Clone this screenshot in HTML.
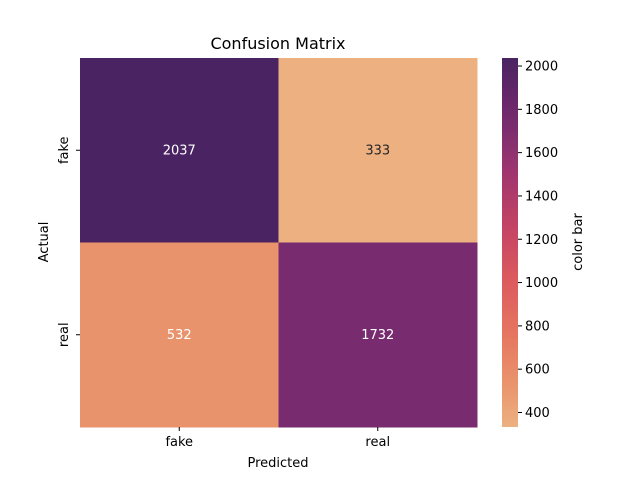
<!DOCTYPE html>
<html><head><meta charset="utf-8"><style>
body{margin:0;background:#fff;font-family:"Liberation Sans","DejaVu Sans",sans-serif}
text{font-family:"DejaVu Sans","Liberation Sans",sans-serif}
</style></head><body>
<svg id="chart" width="640" height="480">
<defs><linearGradient id="cbg" x1="0" y1="1" x2="0" y2="0"></linearGradient></defs>
<text x="278" y="49" text-anchor="middle" font-size="16">Confusion Matrix</text>
<g id="cells"></g>
<g id="axes"></g>
<g id="cbar"></g>
</svg>
<script>
const rowLabels=["fake","real"];
const colLabels=["fake","real"];
const values=[[2037,333],[532,1732]];
const cbTicks=[400,600,800,1000,1200,1400,1600,1800,2000];
const NS="http://www.w3.org/2000/svg";
const svg=document.getElementById('chart');
const X0=80,X1=477,Y0=58,Y1=427;
const flat=values.flat();const vmin=Math.min(...flat),vmax=Math.max(...flat);
const stops=[[0,"#edb081"],[0.12,"#e9926b"],[0.25,"#e57661"],[0.4,"#dc5a5e"],[0.55,"#c24265"],[0.7,"#9c356f"],[0.82,"#782b6e"],[1,"#4a2362"]];
function hex(h){return [1,3,5].map(i=>parseInt(h.substr(i,2),16));}
function cmap(v){let t=(v-vmin)/(vmax-vmin);t=Math.max(0,Math.min(1,t));
for(let i=1;i<stops.length;i++){if(t<=stops[i][0]){const a=stops[i-1],b=stops[i];const f=(t-a[0])/(b[0]-a[0]);const ca=hex(a[1]),cb=hex(b[1]);const c=ca.map((x,k)=>Math.round(x+(cb[k]-x)*f));return {c:`rgb(${c})`,lum:(0.299*c[0]+0.587*c[1]+0.114*c[2])};}}
const c=hex(stops[stops.length-1][1]);return {c:`rgb(${c})`,lum:0};}
function el(tag,attrs,parent){const e=document.createElementNS(NS,tag);for(const k in attrs)e.setAttribute(k,attrs[k]);parent.appendChild(e);return e;}
const cw=(X1-X0)/colLabels.length,ch=(Y1-Y0)/rowLabels.length;
const cells=document.getElementById('cells');
values.forEach((row,r)=>row.forEach((v,c)=>{
 const m=cmap(v);
 const rect=el('rect',{x:X0+c*cw,y:Y0+r*ch,width:cw+0.5,height:ch+0.5,fill:m.c},cells);
 
 
 const t=el('text',{x:X0+(c+0.5)*cw,y:Y0+(r+0.5)*ch+4,'text-anchor':'middle','font-size':13,fill:m.lum>175?'#262626':'#fff'},cells);
 t.textContent=v;
 
 
}));
const ax=document.getElementById('axes');
colLabels.forEach((l,i)=>{const x=X0+(i+0.5)*cw;
 el('line',{x1:x,x2:x,y1:Y1,y2:Y1+4,stroke:'#000'},ax);
 const t=el('text',{x:x,y:Y1+19,'text-anchor':'middle','font-size':13},ax);t.textContent=l;
 
 });
rowLabels.forEach((l,i)=>{const y=Y0+(i+0.5)*ch;
 el('line',{x1:X0-4,x2:X0,y1:y,y2:y,stroke:'#000'},ax);
 const t=el('text',{x:0,y:0,'text-anchor':'middle','font-size':13,transform:`translate(68,${y}) rotate(-90)`},ax);t.textContent=l;
 
 });
let t=el('text',{x:278,y:467,'text-anchor':'middle','font-size':13},ax);t.textContent='Predicted';


t=el('text',{x:0,y:0,'text-anchor':'middle','font-size':13,transform:'translate(48,242) rotate(-90)'},ax);t.textContent='Actual';


const cb=document.getElementById('cbar');
const CX=502,CW=16;
const g=document.getElementById('cbg');
for(let i=0;i<=20;i++){const v=vmin+(vmax-vmin)*i/20;el('stop',{offset:(i/20),'stop-color':cmap(v).c},g);}
const cr=el('rect',{x:CX,y:Y0,width:CW,height:Y1-Y0,fill:'url(#cbg)'},cb);


const yv=v=>Y1-(v-vmin)/(vmax-vmin)*(Y1-Y0);
cbTicks.forEach(v=>{const y=yv(v);
 el('line',{x1:CX+CW,x2:CX+CW+4,y1:y,y2:y,stroke:'#000'},cb);
 const tt=el('text',{x:CX+CW+7,y:y+4.5,'font-size':13},cb);tt.textContent=v;
 
 });
t=el('text',{x:0,y:0,'text-anchor':'middle','font-size':13,transform:'translate(582,242) rotate(-90)'},cb);t.textContent='color bar';


</script>
</body></html>
